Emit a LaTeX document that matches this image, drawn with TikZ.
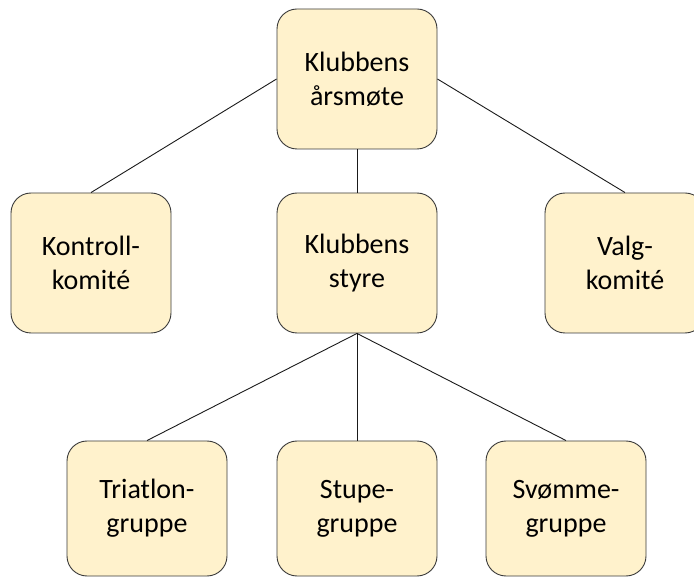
\documentclass[tikz,border=0pt]{standalone}
\usepackage{fontspec}
\setmainfont{Carlito}
\definecolor{boxfill}{HTML}{FFF2CC}
\definecolor{boxline}{HTML}{3A3A3A}
\definecolor{linkline}{HTML}{1A1A1A}
\begin{document}
\begin{tikzpicture}[x=1pt,y=-1pt,
  orgbox/.style={draw=boxline, fill=boxfill, line width=0.9pt, rounded corners=20pt,
    minimum width=160pt, minimum height=140pt, align=center, inner sep=0pt,
    font=\fontsize{28pt}{34pt}\selectfont},
  lowbox/.style={orgbox, minimum height=135pt},
  link/.style={draw=linkline, line width=0.9pt}]
\useasboundingbox (0,0) rectangle (694,577);
\clip (0,0) rectangle (694,577);
\node[orgbox] (top) at (357,79) {Klubbens\\årsmøte};
\node[orgbox] (kontroll) at (91,263) {Kontroll-\\komité};
\node[orgbox] (styre) at (357,263) {Klubbens\\styre};
\node[orgbox] (valg) at (625,263) {Valg-\\komité};
\node[lowbox] (tri) at (147,508.5) {Triatlon-\\gruppe};
\node[lowbox] (stupe) at (357,508.5) {Stupe-\\gruppe};
\node[lowbox] (svomme) at (566,508.5) {Svømme-\\gruppe};
\draw[link] (top.west) -- (kontroll.north);
\draw[link] (top.east) -- (valg.north);
\draw[link] (top.south) -- (styre.north);
\draw[link] (styre.south) -- (tri.north);
\draw[link] (styre.south) -- (stupe.north);
\draw[link] (styre.south) -- (svomme.north);
\end{tikzpicture}
\end{document}
